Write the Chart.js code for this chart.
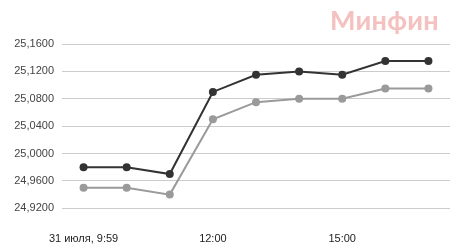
<!DOCTYPE html>
<html>
<head>
<meta charset="utf-8">
<script src="https://cdn.jsdelivr.net/npm/chart.js@4/dist/chart.umd.min.js"></script>
<style>
  html, body { margin: 0; padding: 0; background: #fff; }
  #wrap { width: 460px; height: 252px; position: relative; }
  #marca {
    position: absolute; right: 21px; top: 3px;
    font: bold 27px Lato, 'Noto Sans', sans-serif;
    color: #f5c0c0; letter-spacing: 0.3px;
  }
</style>
</head>
<body>
<div id="wrap"><canvas id="grafico"></canvas><div id="marca">Минфин</div></div>
<script>
const labels = ['31 июля, 9:59', '', '', '12:00', '', '', '15:00', '', ''];
const ventaValues = [24.98, 24.98, 24.97, 25.09, 25.115, 25.12, 25.115, 25.135, 25.135];
const compraValues = [24.95, 24.95, 24.94, 25.05, 25.075, 25.08, 25.08, 25.095, 25.095];
const yTicks = [24.92, 24.96, 25.00, 25.04, 25.08, 25.12, 25.16];

const ctx = document.getElementById('grafico').getContext('2d');
Chart.defaults.font.family = "'Liberation Sans', Arial, sans-serif";

new Chart(ctx, {
    type: 'line',
    data: {
        labels: labels,
        datasets: [
            {
                label: 'Продажа',
                data: ventaValues,
                borderColor: '#333333',
                backgroundColor: '#333333',
                borderWidth: 2,
                pointRadius: 4,
                pointBorderWidth: 0,
                tension: 0,
            },
            {
                label: 'Покупка',
                data: compraValues,
                borderColor: '#9a9a9a',
                backgroundColor: '#9a9a9a',
                borderWidth: 2,
                pointRadius: 4,
                pointBorderWidth: 0,
                tension: 0,
            },
        ],
    },
    options: {
        responsive: true,
        maintainAspectRatio: false,
        animation: false,
        layout: { padding: { left: 0, right: 10, top: 44, bottom: 0 } },
        scales: {
            x: {
                offset: true,
                grid: { display: false },
                border: { display: false },
                ticks: {
                    autoSkip: false,
                    maxRotation: 0,
                    color: '#222',
                    font: { size: 11 },
                    padding: 2,
                },
                afterFit: scale => { scale.height = 30; },
            },
            y: {
                min: 24.90,
                max: 25.16,
                border: { display: false },
                grid: { color: '#cccccc', drawTicks: false },
                afterBuildTicks: scale => { scale.ticks = yTicks.map(v => ({ value: v })); },
                ticks: {
                    color: '#444',
                    font: { size: 11 },
                    padding: 8,
                    callback: value => value.toFixed(4).replace('.', ','),
                },
                afterFit: scale => { scale.width = 62; },
            },
        },
        plugins: {
            legend: { display: false },
            tooltip: { enabled: false },
        },
    },
});
</script>
</body>
</html>
